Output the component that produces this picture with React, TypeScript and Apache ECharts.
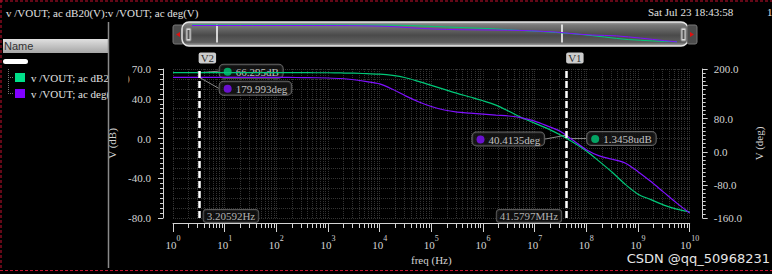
import React, { useEffect, useRef } from "react";
import * as echarts from "echarts";

// ---- data (x = log10 of frequency in Hz) ----
const logFreq = [0, 0.25, 0.5, 0.75, 1, 1.25, 1.5, 1.75, 2, 2.25, 2.5, 2.75, 3, 3.25, 3.5, 3.75, 4, 4.25, 4.5, 4.75, 5, 5.25, 5.5, 5.75, 6, 6.25, 6.5, 6.75, 7, 7.25, 7.5, 7.75, 8, 8.25, 8.5, 8.75, 9, 9.25, 9.5, 9.75, 10];
const gainDb = [66.3, 66.3, 66.3, 66.3, 66.3, 66.3, 66.3, 66.3, 66.3, 66.3, 66.3, 66.25, 66.2, 66.0, 65.8, 65.3, 64.8, 63.5, 61.2, 57.5, 53.5, 49.5, 45.5, 41.8, 38, 33.6, 27.5, 21, 15.5, 10, 3.5, -4, -12.5, -23, -34, -46, -56, -61.5, -67, -71, -73.8];
const phaseDeg = [180, 180, 180, 180, 180, 180, 180, 179.9, 179.8, 179.6, 179.3, 178.9, 178.3, 177, 174, 169.5, 164, 151, 135, 121, 109.5, 101, 96, 93.5, 91, 88.5, 86.5, 82, 74, 62, 49, 27, 5, -10, -18, -27, -48, -72, -98, -124, -148];

const decadeExponents = [0, 1, 2, 3, 4, 5, 6, 7, 8, 9, 10];
const dbTickLabels = [-80, -40, 0, 40, 70];
const degTickLabels = [-160, -80, 0, 80, 200];

const cursorNames = ["V2", "V1"];
const cursorFreqHz = [3.20592, 41.5797e6];
const cursorFreqText = ["3.20592Hz", "41.5797MHz"];
const cursorGainDb = [66.295, 1.3458e-6];
const cursorGainText = ["66.295dB", "1.3458udB"];
const cursorPhaseDeg = [179.993, 40.4135];
const cursorPhaseText = ["179.993deg", "40.4135deg"];

const legendNames = ["v /VOUT; ac dB20(V)", "v /VOUT; ac deg(V)"];
const titleText = "v /VOUT; ac dB20(V):v /VOUT; ac deg(V)";
const dateText = "Sat Jul 23 18:43:58";

// ---- styles ----
const SERIF = "'Liberation Serif', 'Times New Roman', serif";
const GREEN = "#00c878";
const PURPLE = "#7f10ff";
const AXIS_C = "#d4d4d4";
const GRID_C = "#333333";

const gainShift = [[20, -1.5], [20, 0]];
const phaseShift = [[20, 11], [-22, 4]];

export default function App() {
  const ref = useRef<HTMLDivElement>(null);
  useEffect(() => {
    if (!ref.current) return;
    const chart = echarts.init(ref.current, undefined, { renderer: "svg" });
    const cursorX = cursorFreqHz.map((f) => Math.log10(f));
    const minorTicks: number[] = [];
    for (let d = 0; d < 10; d++) for (let k = 2; k <= 9; k++) minorTicks.push(d + Math.log10(k));
    const gainData = logFreq.map((x, i) => [x, gainDb[i]]);
    const phaseData = logFreq.map((x, i) => [x, phaseDeg[i]]);

    const valueLabel = (color: string) => ({
      show: true,
      position: "right",
      distance: 0,
      backgroundColor: "#161616",
      borderColor: "#7a7a7a",
      borderWidth: 1,
      borderRadius: 4,
      padding: [1, 4, 0, 4],
      rich: {
        dot: { width: 8, height: 8, borderRadius: 4, backgroundColor: color },
        t: { color: "#ececec", fontSize: 11, fontFamily: SERIF, padding: [0, 0, 0, 4], lineHeight: 12 },
      },
    });

    const option: any = {
      animation: false,
      backgroundColor: "#000",
      textStyle: { fontFamily: SERIF },
      grid: [
        { left: 173, top: 69, width: 525, height: 149 },
        { left: 192, top: 24.5, width: 485, height: 18 },
      ],
      xAxis: [
        {
          gridIndex: 0, type: "value", min: 0, max: 10, interval: 1, offset: 5,
          axisLine: { show: true, onZero: false, lineStyle: { color: AXIS_C, width: 1 } },
          axisTick: { show: true, length: 9, lineStyle: { color: AXIS_C } },
          axisLabel: {
            color: AXIS_C, margin: 11,
            formatter: (v: number) => (decadeExponents.includes(v) ? `{b|10}{s|${v}}` : ""),
            rich: {
              b: { fontSize: 11, fontFamily: SERIF, color: AXIS_C, verticalAlign: "bottom", lineHeight: 16 },
              s: { fontSize: 8, fontFamily: SERIF, color: AXIS_C, verticalAlign: "top", lineHeight: 16 },
            },
          },
          splitLine: { show: true, lineStyle: { color: GRID_C, type: "dotted" } },
          name: "freq (Hz)", nameLocation: "middle", nameGap: 29,
          nameTextStyle: { color: AXIS_C, fontFamily: SERIF, fontSize: 11 },
        },
        {
          gridIndex: 0, type: "value", min: 0, max: 10, offset: 5, position: "bottom",
          axisLine: { show: false, onZero: false },
          axisTick: { show: true, customValues: minorTicks, length: 5, lineStyle: { color: AXIS_C } },
          axisLabel: { show: false },
          splitLine: { show: true, lineStyle: { color: GRID_C, type: "dotted" } },
        },
        { gridIndex: 1, type: "value", min: 0, max: 10, show: false },
      ],
      yAxis: [
        {
          gridIndex: 0, type: "value", position: "left", min: -80, max: 70, interval: 40, offset: 10,
          axisLine: { show: true, onZero: false, lineStyle: { color: AXIS_C } },
          axisTick: { show: true, length: 5, lineStyle: { color: AXIS_C } },
          minorTick: { show: true, splitNumber: 8, length: 3, lineStyle: { color: AXIS_C } },
          axisLabel: { color: AXIS_C, fontSize: 11, margin: 12, formatter: (v: number) => (dbTickLabels.includes(v) ? v.toFixed(1) : "") },
          splitLine: { show: false },
          name: "V (dB)", nameLocation: "middle", nameGap: 41, nameRotate: 90,
          nameTextStyle: { color: AXIS_C, fontFamily: SERIF, fontSize: 11 },
        },
        {
          gridIndex: 0, type: "value", position: "right", min: -160, max: 200, interval: 80, offset: 13,
          axisLine: { show: true, onZero: false, lineStyle: { color: AXIS_C } },
          axisTick: { show: true, length: 5, lineStyle: { color: AXIS_C } },
          minorTick: { show: true, splitNumber: 8, length: 3, lineStyle: { color: AXIS_C } },
          axisLabel: { color: AXIS_C, fontSize: 11, margin: 11, formatter: (v: number) => (degTickLabels.includes(v) ? v.toFixed(1) : "") },
          splitLine: { show: false },
          name: "V (deg)", nameLocation: "middle", nameGap: 44, nameRotate: 90,
          nameTextStyle: { color: AXIS_C, fontFamily: SERIF, fontSize: 11 },
        },
        {
          gridIndex: 0, type: "value", position: "left", min: -80, max: 70, interval: 10,
          axisLine: { show: false, onZero: false }, axisTick: { show: false }, axisLabel: { show: false },
          splitLine: { show: true, lineStyle: { color: GRID_C, type: "dotted" } },
        },
        { gridIndex: 1, type: "value", min: -80, max: 70, show: false },
        { gridIndex: 1, type: "value", min: -160, max: 200, show: false },
      ],
      series: [
        {
          type: "line", name: legendNames[0], xAxisIndex: 0, yAxisIndex: 0, data: gainData,
          showSymbol: false, smooth: 0.3, lineStyle: { color: GREEN, width: 1.2 }, itemStyle: { color: GREEN }, silent: true,
        },
        {
          type: "line", name: legendNames[1], xAxisIndex: 0, yAxisIndex: 1, data: phaseData,
          showSymbol: false, smooth: 0.3, lineStyle: { color: PURPLE, width: 1.2 }, itemStyle: { color: PURPLE }, silent: true,
        },
        {
          type: "scatter", name: "cursorTags", xAxisIndex: 0, yAxisIndex: 0, symbolSize: 1, silent: true,
          itemStyle: { color: "rgba(0,0,0,0)" },
          data: cursorX.map((x, i) => ({ name: cursorNames[i], value: [x, 70] })),
          label: {
            show: true, position: [0, -16], formatter: "{b}", color: "#000", fontSize: 11, fontFamily: SERIF,
            backgroundColor: "#fff", borderRadius: 2, padding: [0, 2, 0, 2], lineHeight: 11,
          },
          markLine: {
            silent: true, symbol: ["none", "none"], label: { show: false },
            lineStyle: { color: "#fff", width: 2.5, type: [7, 3] },
            data: cursorX.map((x) => ({ xAxis: x })),
          },
        },
        {
          type: "scatter", name: "cursorFreq", xAxisIndex: 0, yAxisIndex: 0, symbolSize: 1, silent: true,
          itemStyle: { color: "rgba(0,0,0,0)" },
          data: cursorX.map((x, i) => ({
            name: cursorFreqText[i], value: [x, -80],
            label: i === 0 ? { position: "right", distance: 4 } : { position: "left", distance: 5 },
          })),
          label: {
            show: true, formatter: "{b}", color: "#dcdcdc", fontSize: 11, fontFamily: SERIF, offset: [0, -2],
            backgroundColor: "#111", borderColor: "#6a6a6a", borderWidth: 1, borderRadius: 3, padding: [0, 3, 0, 3], lineHeight: 12,
          },
        },
        {
          type: "scatter", name: "gainMarkers", xAxisIndex: 0, yAxisIndex: 0, symbolSize: 1, silent: true,
          itemStyle: { color: "rgba(0,0,0,0)" },
          data: cursorX.map((x, i) => ({ name: cursorGainText[i], value: [x, cursorGainDb[i]] })),
          label: { ...valueLabel(GREEN), formatter: (p: any) => `{dot|}{t|${p.name}}` },
          labelLayout: (p: any) => ({ dx: gainShift[p.dataIndex][0], dy: gainShift[p.dataIndex][1] }),
          labelLine: { show: true, lineStyle: { color: "#8a8a8a", width: 1 } },
        },
        {
          type: "scatter", name: "phaseMarkers", xAxisIndex: 0, yAxisIndex: 1, symbolSize: 1, silent: true,
          itemStyle: { color: "rgba(0,0,0,0)" },
          data: cursorX.map((x, i) => ({
            name: cursorPhaseText[i], value: [x, cursorPhaseDeg[i]],
            label: { position: i === 0 ? "right" : "left" },
          })),
          label: { ...valueLabel(PURPLE), formatter: (p: any) => `{dot|}{t|${p.name}}` },
          labelLayout: (p: any) => ({ dx: phaseShift[p.dataIndex][0], dy: phaseShift[p.dataIndex][1] }),
          labelLine: { show: true, lineStyle: { color: "#8a8a8a", width: 1 } },
        },
        {
          type: "line", name: "overviewGain", xAxisIndex: 2, yAxisIndex: 3, data: gainData, z: 5,
          showSymbol: false, lineStyle: { color: GREEN, width: 1 }, silent: true,
          markLine: {
            silent: true, symbol: ["none", "none"], label: { show: false },
            lineStyle: { color: "#fff", width: 1.5, type: "solid" },
            data: cursorX.map((x) => ({ xAxis: x })),
          },
        },
        {
          type: "line", name: "overviewPhase", xAxisIndex: 2, yAxisIndex: 4, data: phaseData, z: 5,
          showSymbol: false, lineStyle: { color: PURPLE, width: 1 }, silent: true,
        },
      ],
      graphic: [
        // frame
        { type: "line", z: 10, shape: { x1: 0, y1: 1, x2: 772, y2: 1 }, style: { stroke: "#c8102e", lineWidth: 1, lineDash: [3, 2] } },
        { type: "line", z: 10, shape: { x1: 1, y1: 0, x2: 1, y2: 271 }, style: { stroke: "#c8102e", lineWidth: 1, lineDash: [3, 2] } },
        { type: "line", z: 10, shape: { x1: 0, y1: 270.5, x2: 772, y2: 270.5 }, style: { stroke: "#c8102e", lineWidth: 1, lineDash: [3, 2] } },
        // header texts
        { type: "text", x: 6, y: 13, style: { text: titleText, fill: "#e2e2e2", font: `11px ${SERIF}`, verticalAlign: "middle" } },
        { type: "text", x: 648, y: 12, style: { text: dateText, fill: "#e2e2e2", font: `11px ${SERIF}`, verticalAlign: "middle" } },
        { type: "text", x: 767, y: 12, style: { text: "1", fill: "#e2e2e2", font: `11px ${SERIF}`, verticalAlign: "middle" } },
        { type: "text", z: 0, x: 650, y: 26, style: { text: "2022", fill: "#e2e2e2", font: `11px ${SERIF}`, verticalAlign: "middle" } },
        // left panel
        {
          type: "rect", shape: { x: 3, y: 39, width: 105, height: 14 },
          style: { fill: new echarts.graphic.LinearGradient(0, 0, 0, 1, [{ offset: 0, color: "#e0e0e0" }, { offset: 1, color: "#a6a6a6" }]) },
        },
        { type: "text", x: 4, y: 46, style: { text: "Name", fill: "#333", font: "11px 'Liberation Sans', sans-serif", verticalAlign: "middle" } },
        { type: "rect", shape: { x: 3, y: 59, width: 25, height: 5, r: 2.5 }, style: { fill: "#fff" } },
        { type: "line", shape: { x1: 8.5, y1: 69, x2: 8.5, y2: 93 }, style: { stroke: "#777", lineWidth: 1, lineDash: [1, 1] } },
        { type: "line", shape: { x1: 8, y1: 77.5, x2: 14, y2: 77.5 }, style: { stroke: "#777", lineWidth: 1, lineDash: [1, 1] } },
        { type: "line", shape: { x1: 8, y1: 93.5, x2: 14, y2: 93.5 }, style: { stroke: "#777", lineWidth: 1, lineDash: [1, 1] } },
        { type: "rect", shape: { x: 15, y: 73, width: 10, height: 9 }, style: { fill: "#00e08a" } },
        { type: "rect", shape: { x: 15, y: 89, width: 10, height: 9 }, style: { fill: "#8000ff" } },
        { type: "text", z: 1, x: 31, y: 77.5, style: { text: legendNames[0], fill: "#e2e2e2", font: `11px ${SERIF}`, verticalAlign: "middle" } },
        { type: "text", z: 1, x: 31, y: 93.5, style: { text: legendNames[1], fill: "#e2e2e2", font: `11px ${SERIF}`, verticalAlign: "middle" } },
        { type: "rect", z: 2, shape: { x: 108.5, y: 66, width: 20, height: 36 }, style: { fill: "#000" } },
        { type: "line", z: 3, shape: { x1: 108.5, y1: 22, x2: 108.5, y2: 268 }, style: { stroke: "#8a8a8a", lineWidth: 1.5 } },
        // overview slider
        { type: "rect", z: 1, shape: { x: 173, y: 25, width: 11, height: 19, r: 2 }, style: { fill: "#4c4c4c", stroke: "#777", lineWidth: 1 } },
        { type: "polygon", z: 2, shape: { points: [[176, 34.5], [180, 32], [180, 37]] }, style: { fill: "#e01010" } },
        {
          type: "rect", z: 1, shape: { x: 182, y: 22, width: 506, height: 24, r: 7 },
          style: {
            stroke: "#e4e4e4", lineWidth: 1.5,
            fill: new echarts.graphic.LinearGradient(0, 0, 0, 1, [
              { offset: 0, color: "#a8a8a8" }, { offset: 0.12, color: "#7a7a7a" }, { offset: 0.55, color: "#4a4a4a" },
              { offset: 0.85, color: "#5e5e5e" }, { offset: 1, color: "#b0b0b0" },
            ]),
          },
        },
        { type: "rect", z: 2, shape: { x: 186, y: 28, width: 5, height: 13, r: 1 }, style: { fill: "#d8d8d8", stroke: "#888", lineWidth: 1 } },
        { type: "rect", z: 2, shape: { x: 187.5, y: 30, width: 2, height: 9 }, style: { fill: "#555" } },
        { type: "rect", z: 2, shape: { x: 681, y: 28, width: 5, height: 13, r: 1 }, style: { fill: "#d8d8d8", stroke: "#888", lineWidth: 1 } },
        { type: "rect", z: 2, shape: { x: 682.5, y: 30, width: 2, height: 9 }, style: { fill: "#555" } },
        { type: "rect", z: 1, shape: { x: 687, y: 25, width: 10, height: 19, r: 2 }, style: { fill: "#4c4c4c", stroke: "#777", lineWidth: 1 } },
        { type: "polygon", z: 2, shape: { points: [[694, 34.5], [690, 32], [690, 37]] }, style: { fill: "#e01010" } },
        // watermark
        { type: "text", x: 770, y: 258, style: { text: "CSDN @qq_50968231", fill: "#e6e6e6", font: "13px 'DejaVu Sans', sans-serif", align: "right", verticalAlign: "middle" } },
      ],
    };
    chart.setOption(option);
    return () => chart.dispose();
  }, []);
  return <div ref={ref} style={{ position: "fixed", left: 0, top: 0, width: 772, height: 274 }} />;
}
